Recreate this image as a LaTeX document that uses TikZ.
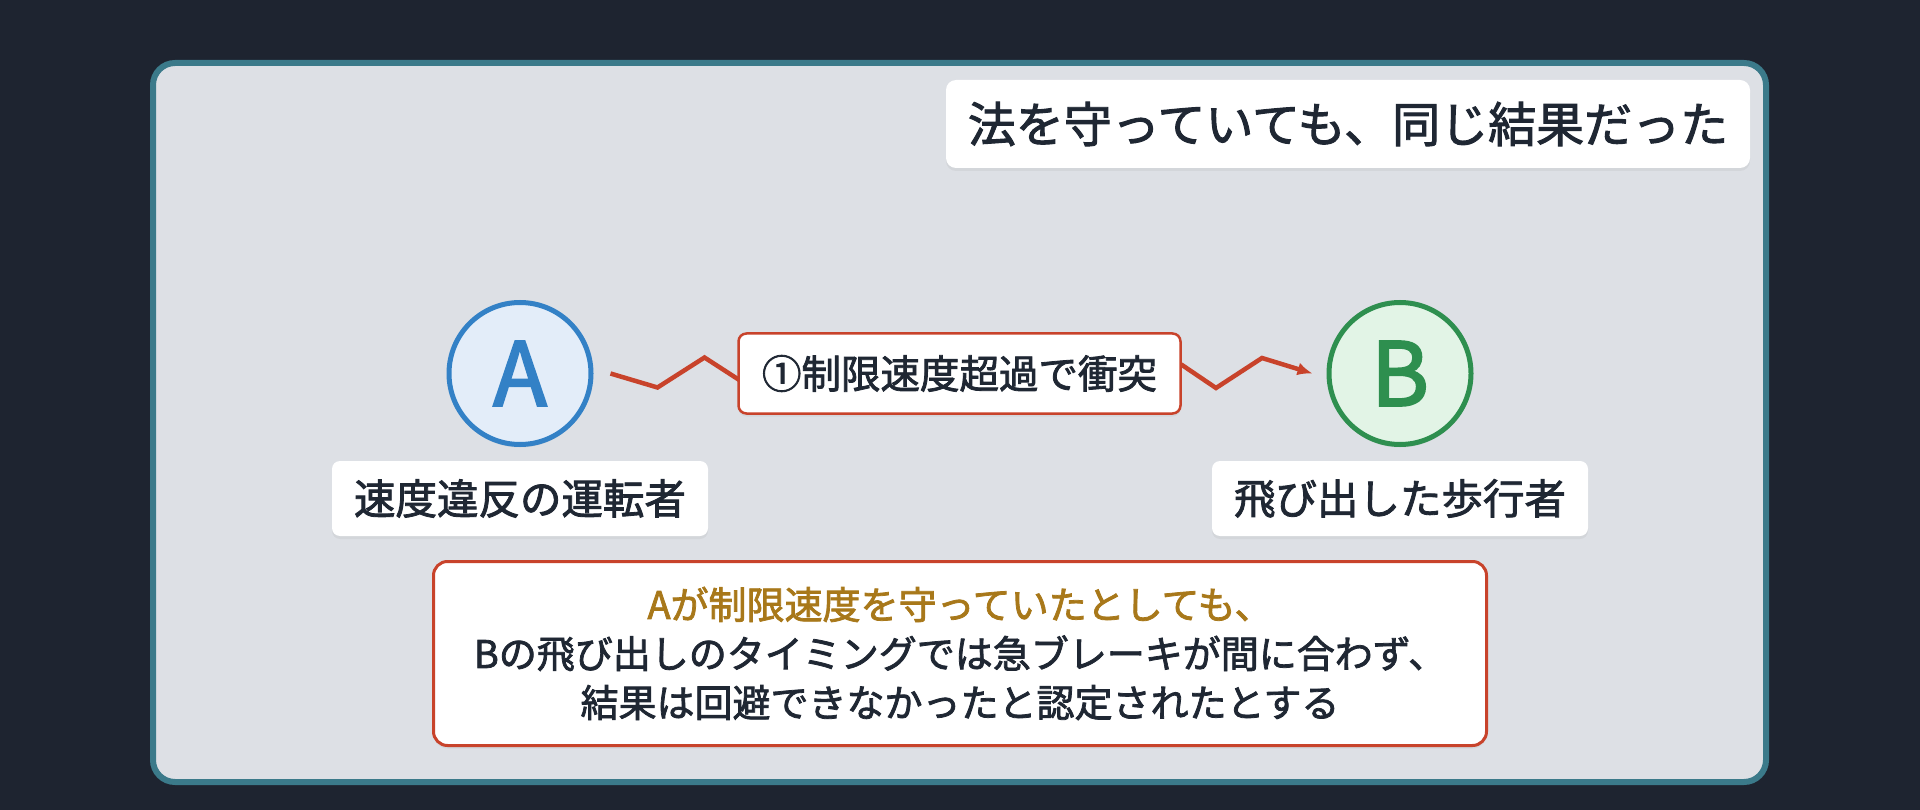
\documentclass[tikz,border=0pt]{standalone}
\usepackage{fontspec}
\setmainfont{Noto Sans CJK JP}[FakeBold=2]
\newfontfamily\letterfont{Noto Sans CJK JP}[FakeBold=2.5]
\usetikzlibrary{arrows.meta,shadows}
\definecolor{bgdark}{HTML}{1E2430}
\definecolor{panel}{HTML}{DDE0E5}
\definecolor{framec}{HTML}{3B7A8A}
\definecolor{ink}{HTML}{1F2733}
\definecolor{redc}{HTML}{C8432B}
\definecolor{blueA}{HTML}{3381C6}
\definecolor{blueF}{HTML}{E3EDF9}
\definecolor{greenB}{HTML}{2E8F4F}
\definecolor{greenF}{HTML}{E2F4E6}
\definecolor{goldc}{HTML}{A8781A}
\pgfdeclarelayer{bg}\pgfdeclarelayer{lines}\pgfsetlayers{bg,lines,main}
\tikzset{
  frame/.style={draw=framec,fill=panel,line width=6pt,rounded corners=22pt},
  circ/.style={circle,line width=5pt,minimum size=142pt,inner sep=0pt,
    font=\letterfont\fontsize{88}{88}\selectfont},
  softshadow/.style={drop shadow={opacity=0.10,shadow xshift=0pt,shadow yshift=-3pt}},
  whitebox/.style={fill=white,rounded corners=8pt,inner sep=0pt,text=ink,softshadow},
  redbox/.style={whitebox,draw=redc},
  zig/.style={draw=redc,line width=4.5pt,line join=miter,-{Latex[length=15pt,width=13pt]}},
}
\begin{document}
\begin{tikzpicture}[x=1pt,y=-1pt]
\useasboundingbox (0,0) rectangle (1920,810);
\begin{pgfonlayer}{bg}
\fill[bgdark] (0,0) rectangle (1920,810);
\draw[frame] (153,63) rectangle (1766,782);
\end{pgfonlayer}

\node[whitebox,minimum width=804pt,minimum height=88pt,rounded corners=10pt,
  font=\fontsize{48}{48}\selectfont] (title) at (1348,124) {法を守っていても、同じ結果だった};

\node[circ,draw=blueA,fill=blueF,text=blueA,softshadow] (A) at (520,373.5) {A};
\node[circ,draw=greenB,fill=greenF,text=greenB,softshadow] (B) at (1400,373.5) {B};

\node[redbox,line width=2.5pt,minimum width=442pt,minimum height=80pt,
  font=\fontsize{39.5}{39.5}\selectfont] (L1) at (959.5,373.5) {①制限速度超過で衝突};

\node[whitebox,minimum width=376pt,minimum height=75pt,
  font=\fontsize{41.5}{41.5}\selectfont] (la) at (520,498.5) {速度違反の運転者};
\node[whitebox,minimum width=376pt,minimum height=75pt,
  font=\fontsize{41.5}{41.5}\selectfont] (lb) at (1400,498.5) {飛び出した歩行者};

\node[redbox,line width=3pt,rounded corners=14pt,minimum width=1053pt,minimum height=184pt,
  align=center,font=\fontsize{38}{49}\selectfont] (note) at (960,653.5)
  {\textcolor{goldc}{Aが制限速度を守っていたとしても、}\\
   Bの飛び出しのタイミングでは急ブレーキが間に合わず、\\
   結果は回避できなかったと認定されたとする};

\begin{pgfonlayer}{lines}
\draw[zig] ([xshift=17pt]A.east) -- ++(47,14) -- ++(47,-30) -- ++(34,22)
  -- (L1.center) -- (1182,365) -- ++(34,23) -- ++(46,-30) -- ([xshift=-14pt]B.west);
\end{pgfonlayer}
\end{tikzpicture}
\end{document}
